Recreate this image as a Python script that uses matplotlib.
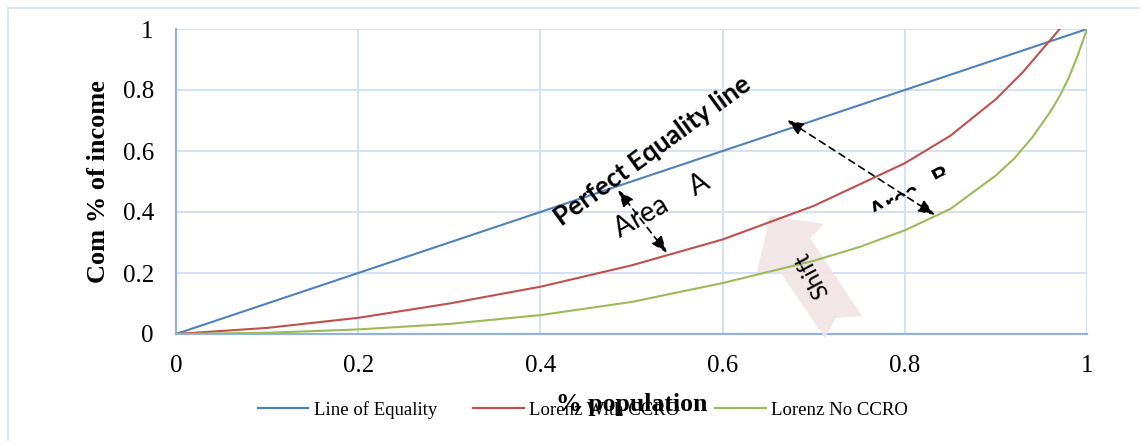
import matplotlib
matplotlib.use("Agg")
import matplotlib.pyplot as plt
from matplotlib.patches import Polygon, Rectangle, PathPatch
from matplotlib.lines import Line2D
from matplotlib.textpath import TextPath
from matplotlib.font_manager import FontProperties
from matplotlib.transforms import Affine2D

# ---- data ----
equality_x = [0.0, 1.0]
equality_y = [0.0, 1.0]

with_ccro_x = [0, 0.1, 0.2, 0.3, 0.4, 0.5, 0.6, 0.7, 0.8, 0.85, 0.9, 0.93, 0.95, 0.97]
with_ccro_y = [0, 0.02, 0.053, 0.10, 0.155, 0.225, 0.31, 0.42, 0.56, 0.65, 0.77, 0.86, 0.93, 1.0]

no_ccro_x = [0, 0.1, 0.2, 0.3, 0.4, 0.5, 0.6, 0.7, 0.75, 0.8, 0.85, 0.9, 0.92, 0.94, 0.96, 0.97, 0.98, 0.99, 1.0]
no_ccro_y = [0, 0.004, 0.015, 0.033, 0.062, 0.105, 0.167, 0.24, 0.285, 0.34, 0.41, 0.52, 0.575, 0.645, 0.73, 0.78, 0.84, 0.915, 1.0]

series_labels = ["Line of Equality", "Lorenz With CCRO", "Lorenz No CCRO"]
series_colors = ["#4F81BD", "#C0504D", "#9BBB59"]
tick_values = [0, 0.2, 0.4, 0.6, 0.8, 1.0]
tick_labels = ["0", "0.2", "0.4", "0.6", "0.8", "1"]

W, H = 1140, 441
fig = plt.figure(figsize=(W / 100, H / 100), dpi=100)
ax = fig.add_axes([176 / W, 1 - 334 / H, 911 / W, 305 / H])

# outer chart border
fig.patches.append(Rectangle((8 / W, -0.05), 1.2, 1 - 8 / H + 0.05, transform=fig.transFigure,
                             fill=False, edgecolor="#d6e0ee", linewidth=1.2))

def px(xp, yp):
    """pixel position (x right, y down) -> data coords"""
    return ((xp - 176) / 911, (334 - yp) / 305)

serif = "Liberation Serif"
sans = "Lato"

ax.set_xlim(0, 1)
ax.set_ylim(0, 1)
ax.set_xticks(tick_values)
ax.set_xticklabels(tick_labels, fontfamily=serif, fontsize=18)
ax.set_yticks(tick_values)
ax.set_yticklabels(tick_labels, fontfamily=serif, fontsize=18)
ax.tick_params(axis="both", length=0)
ax.tick_params(axis="x", pad=15)
ax.tick_params(axis="y", pad=16)
ax.grid(True, color="#d5e1f2", linewidth=1.4, zorder=0.5)
ax.set_axisbelow(True)
for s in ["top", "right"]:
    ax.spines[s].set_visible(False)
for s in ["left", "bottom"]:
    ax.spines[s].set_color("#95b3d7")
    ax.spines[s].set_linewidth(1.6)

ax.set_ylabel("Com % of income", fontfamily=serif, fontsize=19, fontweight="bold", va="center")
ax.yaxis.set_label_coords(-0.0856, 0.5)
ax.set_xlabel("% population", fontfamily=serif, fontsize=18.5, fontweight="bold", va="center")
ax.xaxis.set_label_coords(0.5005, -0.23)

# shift arrow (drawn under curves)
shift_px = [(770, 216), (824, 224), (810, 238), (862, 316), (836, 318),
            (825, 338), (780, 272), (757, 272)]
ax.add_patch(Polygon([px(*p) for p in shift_px], closed=True, facecolor="#f1e4e4",
                     edgecolor="none", alpha=0.9, zorder=3, clip_on=False))

ax.plot(equality_x, equality_y, color=series_colors[0], lw=1.5, zorder=4)
ax.plot(with_ccro_x, with_ccro_y, color=series_colors[1], lw=1.5, zorder=4)
ax.plot(no_ccro_x, no_ccro_y, color=series_colors[2], lw=1.5, zorder=4)

# legend
handles = [Line2D([], [], color=c, lw=1.6) for c in series_colors]
fig.legend(handles, series_labels, loc="center", bbox_to_anchor=(583 / W, 1 - 410 / H),
           ncol=3, frameon=False, prop={"family": serif, "size": 13.5},
           handlelength=2.7, handletextpad=0.3, columnspacing=1.9)

# dashed double arrows
def dashed_double(p1, p2):
    a, b = px(*p1), px(*p2)
    ax.annotate("", xy=a, xytext=b, zorder=6,
                arrowprops=dict(arrowstyle="<|-|>,head_length=1.0,head_width=0.38",
                                linestyle=(0, (4, 3)), color="black", lw=1.2,
                                shrinkA=0, shrinkB=0))

dashed_double((618, 190), (667, 253))
dashed_double((787, 120), (935, 215))

# texts
ax.text(*px(653, 151), "Perfect Equality line", rotation=36, rotation_mode="anchor",
        ha="center", va="center", fontfamily=sans, fontweight="bold", fontsize=19, zorder=7)
ax.text(*px(662, 206), "Area    A", rotation=29, rotation_mode="anchor",
        ha="center", va="center", fontfamily=sans, fontsize=20, zorder=7)
ax.text(*px(812, 275), "Shift", rotation=118, rotation_mode="anchor",
        ha="center", va="center", fontfamily=sans, fontsize=17, zorder=7)

# "Area B" label, only its upper part visible (clipped)
tp = TextPath((0, 0), "Area   B", size=18 * 100 / 72,
              prop=FontProperties(family=sans, weight="bold"))
tr = Affine2D().rotate_deg(28).translate(875, H - 221)
area_b = PathPatch(tp, transform=tr, facecolor="black", edgecolor="none", zorder=7)
clip_px = [(800, 251.8), (1050, 118.8), (1050, 0), (800, 0)]
clip_poly = Polygon([px(*p) for p in clip_px], closed=True, transform=ax.transData)
area_b.set_clip_path(clip_poly)
ax.add_artist(area_b)

fig.savefig("out.png", dpi=100)
